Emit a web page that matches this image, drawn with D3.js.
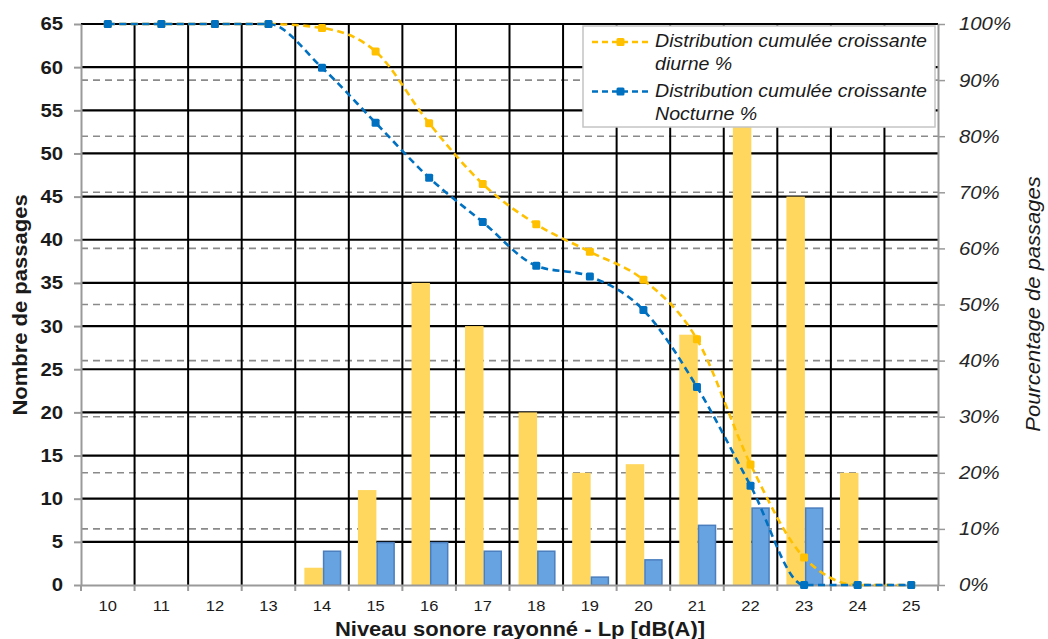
<!DOCTYPE html>
<html>
<head>
<meta charset="utf-8">
<script src="https://cdn.jsdelivr.net/npm/d3@7/dist/d3.min.js"></script>
<style>
  html, body { margin: 0; padding: 0; background: #fff; }
  svg { display: block; font-family: "Liberation Sans", Arial, sans-serif; }
</style>
</head>
<body>
<svg id="chart" width="1048" height="639"></svg>
<script>
// Sound levels (dB(A)) on the x axis
const levels = ["10","11","12","13","14","15","16","17","18","19","20","21","22","23","24","25"];
// Number of passages per level
const dayCounts   = [0,0,0,0,2,11,35,30,20,13,14,29,56,45,13,0];
const nightCounts = [0,0,0,0,4,5,5,4,4,1,3,7,9,9,0,0];
// Cumulative distributions (%)
const dayCumul   = [100,100,100,100,99.3,95.1,82.3,71.5,64.3,59.4,54.4,43.8,21.5,4.9,0,0];
const nightCumul = [100,100,100,100,92.2,82.4,72.6,64.7,56.9,55.0,49.0,35.3,17.7,0,0,0];
// Axis ticks
const countTicks = [0,5,10,15,20,25,30,35,40,45,50,55,60,65];
const pctTicks   = [0,10,20,30,40,50,60,70,80,90,100];

const legendItems = [
  { lines: ["Distribution cumulée croissante", "diurne %"], color: "#FFC000" },
  { lines: ["Distribution cumulée croissante", "Nocturne %"], color: "#0070C0" }
];

const svg = d3.select("#chart");
const plotL = 81, plotR = 938, plotT = 24, plotB = 585;
const STRETCH = 1.1; // glyphs are drawn slightly wide

const x = d3.scaleBand().domain(levels).range([plotL, plotR]).padding(0);
const bw = x.bandwidth();
const xs = d3.scaleBand().domain(["day","night"]).range([bw * 0.17, bw * 0.86]).padding(0);
const y = d3.scaleLinear().domain([0, 65]).range([plotB, plotT]);
const yp = d3.scaleLinear().domain([0, 100]).range([plotB, plotT]);

const textColor = "#1a1a1a";

// widen axis tick labels while keeping their anchor point
function widen(sel) {
  sel.each(function() {
    const t = d3.select(this);
    const x0 = +t.attr("x") || 0;
    t.attr("x", x0 / STRETCH).attr("transform", `scale(${STRETCH},1)`);
  });
}
function addText(px, py, rot, txt, size, style) {
  const t = svg.append("text")
    .attr("transform", `translate(${px},${py}) rotate(${rot}) scale(${STRETCH},1)`)
    .attr("text-anchor", "middle")
    .attr("font-size", size).attr("fill", textColor)
    .text(txt);
  if (style.bold) t.attr("font-weight", "bold");
  if (style.italic) t.attr("font-style", "italic");
  return t;
}

// Dashed percentage gridlines
svg.append("g").selectAll("line")
  .data(pctTicks.filter(d => d > 0 && d < 100))
  .join("line")
  .attr("x1", plotL).attr("x2", plotR)
  .attr("y1", d => yp(d)).attr("y2", d => yp(d))
  .attr("stroke", "#8a8a8a").attr("stroke-width", 1.6)
  .attr("stroke-dasharray", "7,5");

// Solid count gridlines
svg.append("g").selectAll("line")
  .data(countTicks.filter(d => d > 0))
  .join("line")
  .attr("x1", plotL).attr("x2", plotR)
  .attr("y1", d => y(d)).attr("y2", d => y(d))
  .attr("stroke", "#000").attr("stroke-width", 2.2);

// Vertical gridlines at category boundaries
svg.append("g").selectAll("line")
  .data(levels.slice(1))
  .join("line")
  .attr("x1", d => x(d)).attr("x2", d => x(d))
  .attr("y1", plotT).attr("y2", plotB)
  .attr("stroke", "#000").attr("stroke-width", 2);

// Bars
const barG = svg.append("g");
barG.selectAll("rect.day")
  .data(levels.map((l, i) => ({ l, v: dayCounts[i] })).filter(d => d.v > 0))
  .join("rect").attr("class", "day")
  .attr("x", d => x(d.l) + xs("day"))
  .attr("width", xs.bandwidth())
  .attr("y", d => y(d.v))
  .attr("height", d => y(0) - y(d.v))
  .attr("fill", "#FFD75E");
barG.selectAll("rect.night")
  .data(levels.map((l, i) => ({ l, v: nightCounts[i] })).filter(d => d.v > 0))
  .join("rect").attr("class", "night")
  .attr("x", d => x(d.l) + xs("night") + 0.75)
  .attr("width", xs.bandwidth() - 1.5)
  .attr("y", d => y(d.v) + 0.75)
  .attr("height", d => y(0) - y(d.v) - 0.75)
  .attr("fill", "#68A3E1")
  .attr("stroke", "#4A7EBD").attr("stroke-width", 1.5);

// Axes
const axisColor = "#9a9a9a";
const xAxis = svg.append("g").attr("transform", `translate(0,${plotB})`)
  .call(d3.axisBottom(x).tickSize(0).tickPadding(15));
xAxis.select(".domain").attr("stroke", axisColor).attr("stroke-width", 2);
xAxis.selectAll("text").attr("font-size", 15).attr("fill", textColor).call(widen);
// boundary ticks on the x axis
xAxis.append("g").selectAll("line")
  .data(levels.concat(["end"]))
  .join("line")
  .attr("x1", d => d === "end" ? plotR : x(d))
  .attr("x2", d => d === "end" ? plotR : x(d))
  .attr("y1", 0).attr("y2", 6)
  .attr("stroke", axisColor).attr("stroke-width", 2);

const yAxis = svg.append("g").attr("transform", `translate(${plotL},0)`)
  .call(d3.axisLeft(y).tickValues(countTicks).tickSizeInner(7).tickSizeOuter(0).tickPadding(11));
yAxis.select(".domain").attr("stroke", axisColor).attr("stroke-width", 2);
yAxis.selectAll(".tick line").attr("stroke", axisColor).attr("stroke-width", 2);
yAxis.selectAll("text").attr("font-size", 18.5).attr("font-weight", "bold").attr("fill", textColor).call(widen);

const yAxisR = svg.append("g").attr("transform", `translate(${plotR},0)`)
  .call(d3.axisRight(yp).tickValues(pctTicks).tickFormat(d => d + "%").tickSizeInner(7).tickSizeOuter(0).tickPadding(14));
yAxisR.select(".domain").attr("stroke", axisColor).attr("stroke-width", 2);
yAxisR.selectAll(".tick line").attr("stroke", axisColor).attr("stroke-width", 1.5);
yAxisR.selectAll("text").attr("font-size", 18.5).attr("font-style", "italic").attr("fill", "#262626").call(widen);

// Cumulative lines
const lineGen = d3.line()
  .x(d => x(d.l) + bw / 2)
  .y(d => yp(d.v))
  .curve(d3.curveMonotoneX);

function drawSeries(values, color) {
  const pts = levels.map((l, i) => ({ l, v: values[i] }));
  const g = svg.append("g");
  g.append("path").datum(pts)
    .attr("d", lineGen)
    .attr("fill", "none")
    .attr("stroke", color).attr("stroke-width", 2.6)
    .attr("stroke-dasharray", "7,4.5");
  g.selectAll("rect").data(pts).join("rect")
    .attr("x", d => x(d.l) + bw / 2 - 4)
    .attr("y", d => yp(d.v) - 4)
    .attr("width", 8).attr("height", 8)
    .attr("rx", 1.5)
    .attr("fill", color);
}
drawSeries(dayCumul, "#FFC000");
drawSeries(nightCumul, "#0070C0");

// Legend
const lg = svg.append("g");
lg.append("rect")
  .attr("x", 583).attr("y", 26).attr("width", 352).attr("height", 101)
  .attr("fill", "#fff").attr("stroke", "#c4c4c4").attr("stroke-width", 1.5);
legendItems.forEach((it, i) => {
  const yy = 42 + i * 49.5;
  lg.append("line")
    .attr("x1", 592).attr("x2", 649).attr("y1", yy).attr("y2", yy)
    .attr("stroke", it.color).attr("stroke-width", 2.6).attr("stroke-dasharray", "6,4");
  lg.append("rect")
    .attr("x", 616.5).attr("y", yy - 4).attr("width", 8).attr("height", 8).attr("rx", 1.5)
    .attr("fill", it.color);
  it.lines.forEach((t, j) => {
    lg.append("text")
      .attr("transform", `translate(655,${46.5 + i * 50.5 + j * 23}) scale(${STRETCH},1)`)
      .attr("font-size", 17.8).attr("font-style", "italic").attr("fill", textColor)
      .text(t);
  });
});

// Axis titles
addText(27, 305, -90, "Nombre de passages", 20, { bold: true });
addText(1040, 304, -90, "Pourcentage de passages", 20, { italic: true });
addText(520, 636, 0, "Niveau sonore rayonné - Lp [dB(A)]", 20, { bold: true });
</script>
</body>
</html>
